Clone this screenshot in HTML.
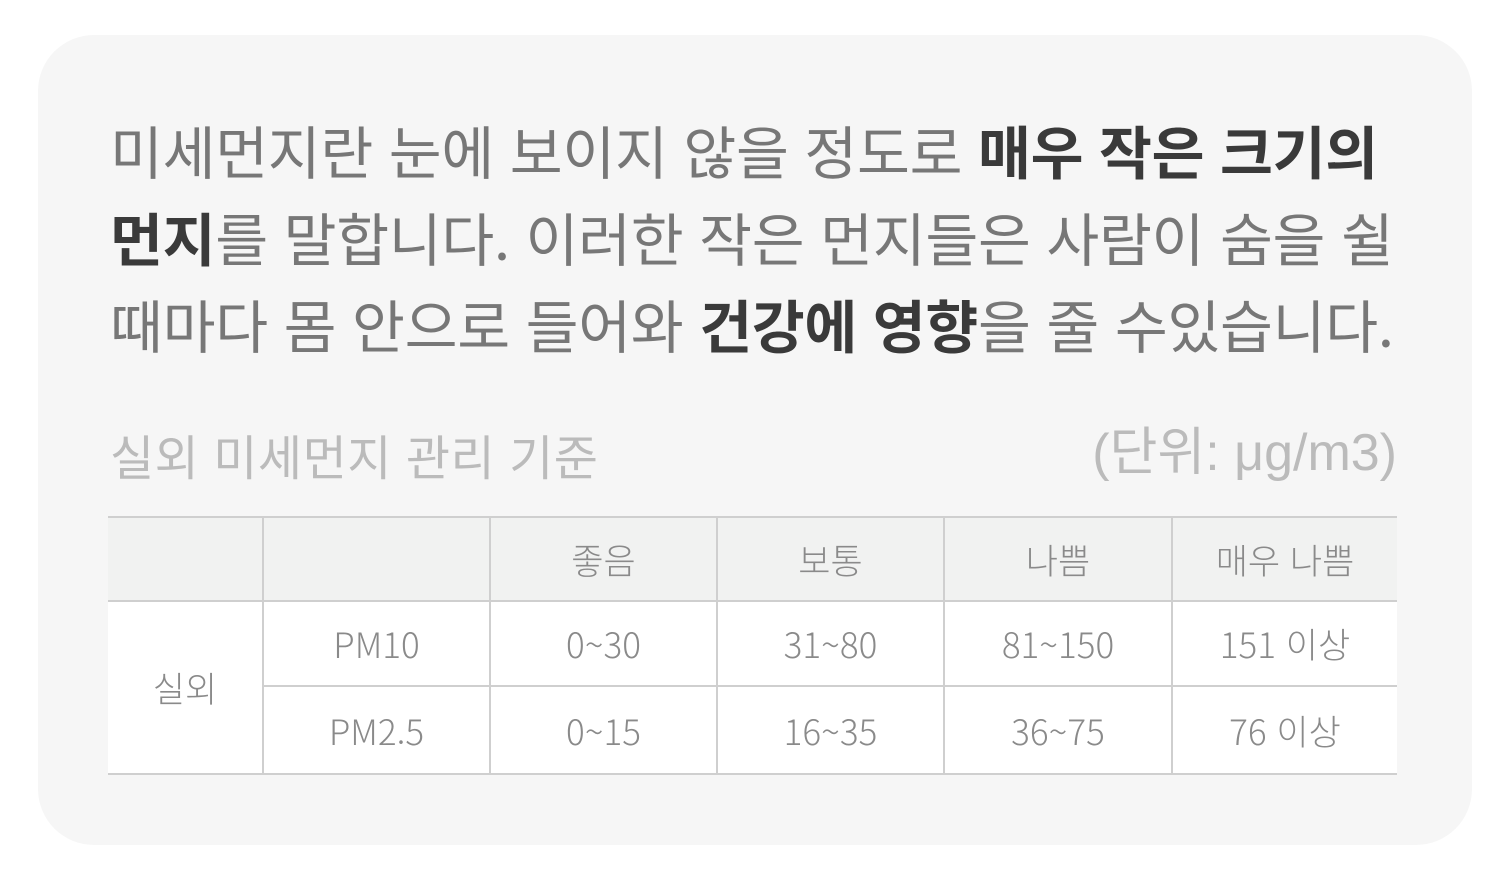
<!DOCTYPE html>
<html lang="ko"><head><meta charset="utf-8">
<style>
html,body{margin:0;padding:0;background:#fff;width:1498px;height:870px;overflow:hidden}
*{box-sizing:border-box}
.card{position:absolute;left:38px;top:35px;width:1434px;height:810px;background:#f6f6f6;border-radius:56px;font-family:"Liberation Sans","Noto Sans CJK KR",sans-serif}
.para{position:absolute;left:72px;top:71px;font-size:57.5px;line-height:87px;color:#777;white-space:nowrap;letter-spacing:-0.3px;font-family:"Noto Sans CJK KR",sans-serif}
.para b{color:#3a3a3a;font-weight:700}
.title{position:absolute;left:72px;top:390px;width:1287px;font-size:48px;line-height:58px;color:#bbb;font-family:"Noto Sans CJK KR",sans-serif;letter-spacing:0.5px}
.title .unit{position:absolute;right:0;top:-1px;font-family:"Liberation Sans","Noto Sans CJK KR",sans-serif;font-size:52px;letter-spacing:0}
table{position:absolute;left:70px;top:481px;width:1289px;border-collapse:collapse;background:#fff;font-family:"Noto Sans CJK KR",sans-serif;font-size:35px;color:#8a8a8a;font-weight:300}
td,th{border:2px solid #cfcfcf;text-align:center;padding:0;font-weight:300}
tr>*:first-child{border-left:none}
tr>*:last-child{border-right:none}
th{background:#f1f2f1;height:84px}
td{height:85px}
tr.r2 td{height:88px}
</style></head><body>
<div class="card">
<div class="para">미세먼지란 눈에 보이지 않을 정도로 <b>매우 작은 크기의</b><br><b>먼지</b>를 말합니다. 이러한 작은 먼지들은 사람이 숨을 쉴<br>때마다 몸 안으로 들어와 <b>건강에 영향</b>을 줄 수있습니다.</div>
<div class="title">실외 미세먼지 관리 기준<span class="unit">(단위: μg/m3)</span></div>
<table>
<colgroup><col style="width:155px"><col style="width:227px"><col style="width:227px"><col style="width:227px"><col style="width:228px"><col style="width:225px"></colgroup>
<tr><th></th><th></th><th>좋음</th><th>보통</th><th>나쁨</th><th>매우 나쁨</th></tr>
<tr><td rowspan="2">실외</td><td>PM10</td><td>0~30</td><td>31~80</td><td>81~150</td><td>151 이상</td></tr>
<tr class="r2"><td>PM2.5</td><td>0~15</td><td>16~35</td><td>36~75</td><td>76 이상</td></tr>
</table>
</div>
</body></html>
